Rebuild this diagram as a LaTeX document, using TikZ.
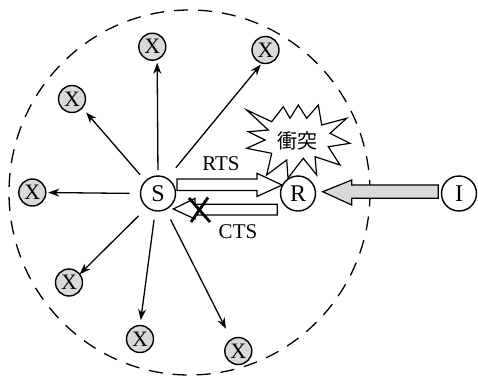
\documentclass[tikz,border=0pt]{standalone}
\usepackage{fontspec}
\setmainfont{Liberation Serif}
\newfontfamily\cjk{Noto Sans CJK JP}
\usetikzlibrary{arrows.meta,calc}
\begin{document}
\begin{tikzpicture}[x=1pt,y=-1pt,line width=1.3pt,
  nd/.style={circle,draw,line width=1.4pt,inner sep=0pt,outer sep=0pt,minimum size=35pt,fill=white,font=\fontsize{24}{24}\selectfont},
  xn/.style={circle,draw,line width=1.4pt,inner sep=0pt,outer sep=0pt,minimum size=27pt,fill=black!15,font=\fontsize{22}{22}\selectfont},
  ray/.style={-{Stealth[length=11pt,width=8pt]},line width=1.3pt},
  hollow/.style={draw,line width=1.2pt,fill=white,line join=miter},
  dotarrow/.style={draw,line width=1.2pt,fill=black!15,line join=miter},
  lbl/.style={font=\fontsize{21}{21}\selectfont,inner sep=0pt},
  rangecircle/.style={dash pattern=on 14pt off 10pt,line width=1.3pt}
]
\useasboundingbox (0,0) rectangle (478,376);
% range of S
\draw[rangecircle] (189.5,192.5) ellipse [x radius=180.5, y radius=182.5];
% collision burst
\draw[line width=1.2pt,fill=white,line join=miter]
  (246.7,110) -- (271.7,121.7) -- (283.3,106.7) -- (290,118.3) -- (298.3,105)
  -- (306.7,118.3) -- (318.3,105) -- (321.7,125) -- (346.7,118.3) -- (330,133.3)
  -- (350,143.3) -- (328.3,146.7) -- (340,165) -- (315,156.7) -- (316.7,175)
  -- (303.3,158.3) -- (288,178) -- (286.7,160) -- (266.7,175) -- (271.7,153.3)
  -- (246.7,148.3) -- (265,140) -- (248.3,131.7) -- (268.3,130) -- cycle;
\node[inner sep=0pt,font=\cjk\fontsize{20}{20}\selectfont] (col) at (297.5,140.5) {衝突};
% nodes
\node[nd] (S) at (158,193.5) {S};
\node[nd] (R) at (298,193.5) {R};
\node[nd] (I) at (459,193.5) {I};
\node[xn] (Xt)  at (152.3,46.7) {X};
\node[xn] (Xtr) at (265.5,50) {X};
\node[xn] (Xul) at (72,99) {X};
\node[xn] (Xl)  at (32.3,192.5) {X};
\node[xn] (Xll) at (69,282.5) {X};
\node[xn] (Xb)  at (140,339) {X};
\node[xn] (Xbr) at (238.3,351) {X};
% broadcast rays
\draw[ray,shorten <=6pt,shorten >=3.5pt] (S.90) -- (Xt.-69);
\draw[ray,shorten <=14pt,shorten >=2pt] (S.59) -- (Xtr.255);
\draw[ray,shorten <=8.5pt,shorten >=6pt] (S.135) -- (Xul.-41);
\draw[ray,shorten <=11pt,shorten >=2.5pt] (S.180) -- (Xl.0);
\draw[ray,shorten <=12pt,shorten >=0pt] (S.-128) -- (Xll.38);
\draw[ray,shorten <=9pt,shorten >=5.5pt] (S.-99) -- (Xb.90);
\draw[ray,shorten <=11.5pt,shorten >=12pt] (S.-65) -- (Xbr.121);
% RTS
\draw[hollow] (177,179) -- (257,179) -- (257,173.3) -- (282,185) -- (257,196.5)
  -- (257,190.5) -- (177,190.5) -- cycle;
\node[lbl] (rts) at (221,163.5) {RTS};
% CTS
\draw[hollow] (277.3,204.3) -- (195,204.3) -- (195,198.3) -- (173.3,209) -- (195,219)
  -- (195,215) -- (277.3,215) -- cycle;
\node[lbl] (cts) at (238,231.5) {CTS};
% cross over CTS
\draw[line width=2.8pt] (189,198) -- (210,222);
\draw[line width=2.8pt] (208,197.5) -- (191,222);
% interference
\draw[dotarrow] (438.3,185) -- (351.7,185) -- (351.7,180) -- (322.7,191.7) -- (351.7,205)
  -- (351.7,198.3) -- (438.3,198.3) -- cycle;
\end{tikzpicture}
\end{document}
